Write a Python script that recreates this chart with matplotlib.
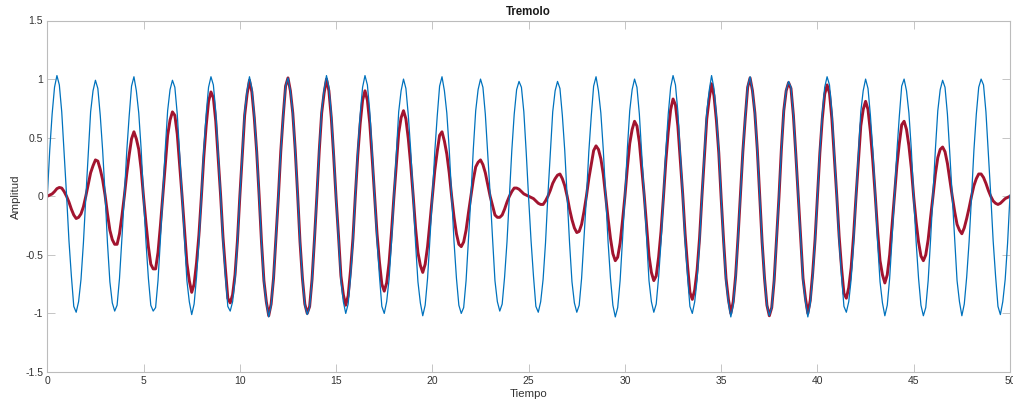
import matplotlib.pyplot as plt
import numpy as np

plt.rcParams['font.family'] = ['Liberation Sans', 'DejaVu Sans']

# signal sampled every eighth of a second, one row per carrier period
sample_step = 0.125

carrier = [
    0.00, 0.39, 0.70, 0.93, 1.03, 0.95, 0.72, 0.37, 0.01, -0.38, -0.68, -0.94, -0.99, -0.90, -0.71, -0.40,
    -0.01, 0.36, 0.72, 0.90, 0.99, 0.92, 0.69, 0.39, 0.02, -0.40, -0.73, -0.91, -0.98, -0.93, -0.70, -0.36,
    0.00, 0.38, 0.68, 0.94, 1.02, 0.90, 0.71, 0.40, -0.02, -0.39, -0.70, -0.93, -0.98, -0.95, -0.72, -0.37,
    0.01, 0.40, 0.73, 0.91, 0.99, 0.93, 0.70, 0.36, 0.00, -0.36, -0.72, -0.90, -1.01, -0.92, -0.69, -0.39,
    -0.01, 0.39, 0.70, 0.93, 1.02, 0.95, 0.72, 0.37, 0.01, -0.38, -0.68, -0.94, -0.98, -0.90, -0.71, -0.40,
    0.00, 0.36, 0.72, 0.90, 1.02, 0.92, 0.69, 0.39, 0.01, -0.40, -0.73, -0.91, -1.03, -0.93, -0.70, -0.36,
    -0.01, 0.38, 0.68, 0.94, 1.01, 0.90, 0.71, 0.40, 0.02, -0.39, -0.70, -0.93, -1.01, -0.95, -0.72, -0.37,
    0.00, 0.40, 0.73, 0.91, 1.03, 0.93, 0.70, 0.36, -0.02, -0.36, -0.72, -0.90, -1.00, -0.92, -0.69, -0.39,
    0.01, 0.39, 0.70, 0.93, 1.03, 0.95, 0.72, 0.37, 0.00, -0.38, -0.68, -0.94, -1.00, -0.90, -0.71, -0.40,
    -0.01, 0.36, 0.72, 0.90, 1.00, 0.92, 0.69, 0.39, 0.01, -0.40, -0.73, -0.91, -1.02, -0.93, -0.70, -0.36,
    0.00, 0.38, 0.68, 0.94, 1.02, 0.90, 0.71, 0.40, 0.01, -0.39, -0.70, -0.93, -1.00, -0.95, -0.72, -0.37,
    -0.01, 0.40, 0.73, 0.91, 1.00, 0.93, 0.70, 0.36, 0.02, -0.36, -0.72, -0.90, -0.98, -0.92, -0.69, -0.39,
    0.00, 0.39, 0.70, 0.91, 0.98, 0.93, 0.72, 0.37, -0.02, -0.38, -0.68, -0.94, -0.99, -0.90, -0.71, -0.40,
    0.01, 0.36, 0.72, 0.90, 0.98, 0.92, 0.69, 0.39, 0.00, -0.40, -0.73, -0.91, -0.99, -0.93, -0.70, -0.36,
    -0.01, 0.38, 0.68, 0.94, 1.02, 0.90, 0.71, 0.40, 0.01, -0.39, -0.70, -0.93, -1.03, -0.95, -0.72, -0.37,
    0.00, 0.40, 0.73, 0.91, 1.00, 0.93, 0.70, 0.36, 0.01, -0.36, -0.72, -0.90, -0.99, -0.92, -0.69, -0.39,
    -0.01, 0.39, 0.70, 0.93, 1.03, 0.95, 0.72, 0.37, 0.02, -0.38, -0.68, -0.94, -1.00, -0.90, -0.71, -0.40,
    0.00, 0.36, 0.72, 0.90, 1.03, 0.92, 0.69, 0.39, -0.02, -0.40, -0.73, -0.91, -1.03, -0.93, -0.70, -0.36,
    0.01, 0.38, 0.68, 0.94, 1.02, 0.90, 0.71, 0.40, 0.00, -0.39, -0.70, -0.93, -1.02, -0.95, -0.72, -0.37,
    -0.01, 0.40, 0.73, 0.91, 0.98, 0.93, 0.70, 0.36, 0.01, -0.36, -0.72, -0.90, -1.03, -0.92, -0.69, -0.39,
    0.00, 0.39, 0.70, 0.93, 1.02, 0.95, 0.72, 0.37, 0.01, -0.38, -0.68, -0.94, -0.99, -0.90, -0.71, -0.40,
    -0.01, 0.36, 0.72, 0.90, 1.00, 0.92, 0.69, 0.39, 0.02, -0.40, -0.73, -0.91, -1.02, -0.93, -0.70, -0.36,
    0.00, 0.38, 0.68, 0.94, 1.00, 0.90, 0.71, 0.40, -0.02, -0.39, -0.70, -0.93, -1.02, -0.95, -0.72, -0.37,
    0.01, 0.40, 0.73, 0.91, 0.99, 0.93, 0.70, 0.36, 0.00, -0.36, -0.72, -0.90, -1.02, -0.92, -0.69, -0.39,
    -0.01, 0.39, 0.70, 0.93, 1.00, 0.95, 0.72, 0.37, 0.01, -0.38, -0.68, -0.94, -1.01, -0.90, -0.71, -0.40,
    0.01,
]

tremolo = [
    0.00, 0.01, 0.02, 0.04, 0.065, 0.075, 0.07, 0.04, 0.00, -0.05, -0.11, -0.16, -0.19, -0.18, -0.15, -0.09,
    0.00, 0.10, 0.20, 0.26, 0.31, 0.30, 0.23, 0.14, 0.01, -0.15, -0.29, -0.37, -0.41, -0.41, -0.32, -0.17,
    0.00, 0.19, 0.35, 0.49, 0.55, 0.49, 0.40, 0.23, -0.01, -0.23, -0.43, -0.58, -0.62, -0.62, -0.48, -0.25,
    0.01, 0.28, 0.52, 0.65, 0.72, 0.69, 0.53, 0.27, 0.00, -0.28, -0.57, -0.72, -0.82, -0.75, -0.57, -0.33,
    -0.01, 0.33, 0.60, 0.81, 0.89, 0.84, 0.64, 0.33, 0.01, -0.35, -0.62, -0.87, -0.91, -0.84, -0.67, -0.38,
    0.00, 0.34, 0.69, 0.87, 0.99, 0.89, 0.67, 0.38, 0.01, -0.39, -0.72, -0.90, -1.02, -0.92, -0.70, -0.36,
    -0.01, 0.38, 0.68, 0.94, 1.01, 0.90, 0.71, 0.40, 0.02, -0.39, -0.70, -0.92, -1.00, -0.94, -0.71, -0.37,
    0.00, 0.39, 0.71, 0.88, 1.00, 0.90, 0.67, 0.34, -0.02, -0.34, -0.68, -0.84, -0.93, -0.85, -0.63, -0.36,
    0.01, 0.35, 0.62, 0.82, 0.90, 0.82, 0.62, 0.32, 0.00, -0.32, -0.56, -0.75, -0.81, -0.74, -0.57, -0.31,
    -0.01, 0.27, 0.54, 0.67, 0.73, 0.66, 0.49, 0.27, 0.01, -0.27, -0.48, -0.59, -0.65, -0.58, -0.43, -0.22,
    0.00, 0.22, 0.38, 0.52, 0.55, 0.47, 0.36, 0.20, 0.00, -0.18, -0.32, -0.41, -0.43, -0.39, -0.29, -0.14,
    0.00, 0.14, 0.25, 0.29, 0.31, 0.27, 0.20, 0.10, 0.00, -0.08, -0.16, -0.18, -0.18, -0.16, -0.11, -0.05,
    0.00, 0.04, 0.07, 0.07, 0.06, 0.04, 0.02, 0.01, 0.00, -0.01, -0.02, -0.04, -0.06, -0.07, -0.07, -0.04,
    0.00, 0.05, 0.11, 0.15, 0.18, 0.19, 0.15, 0.09, 0.00, -0.11, -0.20, -0.27, -0.31, -0.30, -0.24, -0.13,
    0.00, 0.15, 0.27, 0.39, 0.43, 0.40, 0.32, 0.19, 0.00, -0.19, -0.36, -0.49, -0.55, -0.52, -0.40, -0.21,
    0.00, 0.24, 0.45, 0.57, 0.64, 0.60, 0.46, 0.24, 0.01, -0.25, -0.51, -0.65, -0.72, -0.68, -0.52, -0.30,
    -0.01, 0.30, 0.55, 0.74, 0.83, 0.78, 0.60, 0.31, 0.02, -0.32, -0.59, -0.82, -0.88, -0.80, -0.63, -0.36,
    0.00, 0.33, 0.66, 0.83, 0.96, 0.86, 0.65, 0.37, -0.02, -0.38, -0.70, -0.88, -1.00, -0.90, -0.68, -0.35,
    0.01, 0.38, 0.67, 0.93, 1.01, 0.90, 0.71, 0.40, 0.00, -0.39, -0.70, -0.93, -1.02, -0.95, -0.72, -0.37,
    -0.01, 0.40, 0.73, 0.90, 0.97, 0.92, 0.69, 0.36, 0.01, -0.35, -0.70, -0.87, -1.00, -0.89, -0.66, -0.37,
    0.00, 0.37, 0.66, 0.87, 0.95, 0.88, 0.66, 0.34, 0.01, -0.34, -0.61, -0.83, -0.87, -0.78, -0.61, -0.34,
    -0.01, 0.30, 0.60, 0.74, 0.81, 0.74, 0.55, 0.30, 0.01, -0.30, -0.55, -0.67, -0.74, -0.67, -0.50, -0.25,
    0.00, 0.26, 0.45, 0.61, 0.64, 0.57, 0.43, 0.24, -0.01, -0.22, -0.39, -0.51, -0.55, -0.50, -0.37, -0.18,
    0.00, 0.19, 0.33, 0.40, 0.42, 0.38, 0.28, 0.14, 0.00, -0.13, -0.24, -0.29, -0.32, -0.27, -0.19, -0.10,
    0.00, 0.09, 0.15, 0.19, 0.19, 0.16, 0.11, 0.05, 0.00, -0.04, -0.06, -0.07, -0.06, -0.04, -0.02, -0.01,
    0.00,
]

x_ticks = [0, 5, 10, 15, 20, 25, 30, 35, 40, 45, 50]
y_ticks = [-1.5, -1, -0.5, 0, 0.5, 1, 1.5]
y_tick_labels = ['-1.5', '-1', '-0.5', '0', '0.5', '1', '1.5']

t = np.arange(len(carrier)) * sample_step

fig = plt.figure(figsize=(10.13, 4.04), dpi=100)
ax = fig.add_axes([47.3 / 1013, 1 - 372 / 404, (1010 - 47.3) / 1013, (372 - 20.5) / 404])

# modulated signal underneath, carrier drawn over it
ax.plot(t, tremolo, color='#A2142F', lw=2.1)
ax.plot(t, carrier, color='#0072BD', lw=0.9)

ax.set_xlim(0, 50)
ax.set_ylim(-1.5, 1.5)
ax.set_xticks(x_ticks)
ax.set_yticks(y_ticks)
ax.set_yticklabels(y_tick_labels)

axis_grey = '#bcbcbc'
ax.tick_params(direction='in', length=6, width=0.6, colors=axis_grey,
               labelcolor='#333333', labelsize=7.5, top=True, right=True, pad=3)
for s in ax.spines.values():
    s.set_color(axis_grey)
    s.set_linewidth(0.8)

ax.set_title('Tremolo', fontsize=8.3, fontweight='bold', color='#1a1a1a', pad=4)
ax.set_xlabel('Tiempo', fontsize=8.2, color='#333333', labelpad=2)
ax.set_ylabel('Amplitud', fontsize=8.2, color='#333333', labelpad=3)

fig.savefig('out.png', dpi=100)
